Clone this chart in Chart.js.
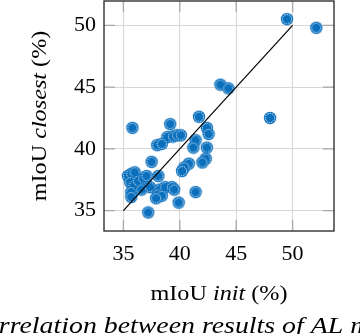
<!DOCTYPE html>
<html>
<head>
<meta charset="utf-8">
<script src="https://cdn.jsdelivr.net/npm/chart.js@4.4.1/dist/chart.umd.min.js"></script>
<style>
  html, body { margin: 0; padding: 0; background: #fff; }
  #wrap { width: 360px; height: 334px; position: relative; overflow: hidden; }
</style>
</head>
<body>
<div id="wrap"><canvas id="c" width="360" height="334"></canvas></div>
<script>
// mIoU init (x) vs mIoU closest (y)
const initVals = [
  49.5, 52.1, 43.6, 44.3, 48.0, 41.7, 35.8, 39.15, 42.4, 42.55,
  38.9, 39.4, 39.75, 40.1, 38.0, 38.4, 41.4, 41.2, 42.4, 42.3,
  42.0, 37.5, 40.8, 40.4, 40.2, 38.1, 35.4, 35.7, 36.0, 35.6,
  35.9, 35.7, 35.7, 36.3, 36.75, 37.05, 36.6, 37.35, 38.2, 38.7,
  39.3, 39.5, 38.1, 38.4, 37.9, 41.4, 39.9, 37.2
];
const closestVals = [
  50.5, 49.8, 45.2, 44.9, 42.5, 42.6, 41.7, 42.0, 41.7, 41.2,
  40.95, 41.0, 41.1, 41.1, 40.3, 40.4, 40.7, 40.1, 40.1, 39.2,
  38.9, 38.95, 38.8, 38.5, 38.2, 37.8, 37.8, 37.97, 38.1, 37.3,
  37.0, 36.5, 36.1, 37.4, 37.6, 37.8, 36.7, 36.9, 36.7, 36.9,
  36.9, 36.7, 36.3, 36.2, 36.0, 36.5, 35.65, 34.85
];
const refLine = [35, 50];
const tickVals = [35, 40, 45, 50];

const BLUE = "#0a6fbd";
const SERIF = '"Liberation Serif", "DejaVu Serif", serif';

// marker: blue disc with a thin white ring inside
function makeMarker() {
  const m = document.createElement("canvas");
  m.width = 14; m.height = 14;
  const g = m.getContext("2d");
  g.fillStyle = BLUE;
  g.beginPath(); g.arc(7, 7, 6.2, 0, Math.PI * 2); g.fill();
  g.strokeStyle = "rgba(255,255,255,0.95)";
  g.lineWidth = 0.9;
  g.setLineDash([1.4, 0.9]);
  g.beginPath(); g.arc(7, 7, 4.6, 0, Math.PI * 2); g.stroke();
  return m;
}

const points = initVals.map((x, i) => ({ x: x, y: closestVals[i] }));

// frame, inner ticks and the text that needs mixed italic
const extras = {
  id: "extras",
  afterDraw(chart) {
    const { ctx, chartArea: a, scales } = chart;
    ctx.save();
    ctx.strokeStyle = "#a8a8a8";
    ctx.lineWidth = 1.3;
    tickVals.forEach((v) => {
      const px = scales.x.getPixelForValue(v);
      const py = scales.y.getPixelForValue(v);
      ctx.beginPath();
      ctx.moveTo(px, a.top); ctx.lineTo(px, a.top + 11);
      ctx.moveTo(px, a.bottom); ctx.lineTo(px, a.bottom - 11);
      ctx.moveTo(a.left, py); ctx.lineTo(a.left + 11, py);
      ctx.moveTo(a.right, py); ctx.lineTo(a.right - 11, py);
      ctx.stroke();
    });
    ctx.strokeStyle = "#222";
    ctx.lineWidth = 1.3;
    ctx.strokeRect(a.left, a.top, a.right - a.left, a.bottom - a.top);

    ctx.fillStyle = "#000";
    ctx.textBaseline = "alphabetic";
    const parts = (pieces, size) =>
      pieces.map(([t, it]) => ({ t, f: (it ? "italic " : "") + size + "px " + SERIF }));
    function drawParts(list, cx, y, sx) {
      let w = 0;
      list.forEach((p) => { ctx.font = p.f; w += ctx.measureText(p.t).width; });
      ctx.save();
      ctx.translate(cx, y);
      ctx.scale(sx, 1);
      let x = -w / 2;
      ctx.textAlign = "left";
      list.forEach((p) => { ctx.font = p.f; ctx.fillText(p.t, x, 0); x += ctx.measureText(p.t).width; });
      ctx.restore();
    }
    // x title
    drawParts(parts([["mIoU ", false], ["init", true], [" (%)", false]], 22), 219, 300, 1.1);
    // y title
    ctx.save();
    ctx.translate(46, 116);
    ctx.rotate(-Math.PI / 2);
    drawParts(parts([["mIoU ", false], ["closest", true], [" (%)", false]], 22), 0, 0, 1.1);
    ctx.restore();
    // caption, cut off by the page edge
    ctx.save();
    ctx.font = "italic 24px " + SERIF;
    const lead = ctx.measureText("Co").width;
    ctx.translate(0, 333);
    ctx.scale(1.16, 1);
    ctx.fillText("Correlation between results of AL methods", -lead - 1, 0);
    ctx.restore();
    ctx.restore();
  }
};

new Chart(document.getElementById("c"), {
  type: "scatter",
  data: {
    datasets: [
      {
        type: "line",
        data: refLine.map((v) => ({ x: v, y: v })),
        borderColor: "#000",
        borderWidth: 1.2,
        pointRadius: 0,
        order: 0
      },
      {
        data: points,
        pointStyle: makeMarker(),
        pointRadius: 7,
        order: 1
      }
    ]
  },
  options: {
    responsive: false,
    animation: false,
    devicePixelRatio: 1,
    layout: { autoPadding: false, padding: { top: 1, right: 26, left: 0, bottom: 0 } },
    plugins: { legend: { display: false }, tooltip: { enabled: false } },
    scales: {
      x: {
        type: "linear",
        min: 33.28,
        max: 53.67,
        afterBuildTicks: (s) => { s.ticks = tickVals.map((v) => ({ value: v })); },
        afterFit: (s) => { s.height = 103; s.paddingLeft = 0; s.paddingRight = 0; },
        grid: { color: "#d6d6d6", lineWidth: 1, drawTicks: false },
        border: { display: false },
        ticks: { color: "#000", padding: 10, font: { family: SERIF, size: 22 } }
      },
      y: {
        type: "linear",
        min: 33.35,
        max: 51.97,
        afterBuildTicks: (s) => { s.ticks = tickVals.map((v) => ({ value: v })); },
        afterFit: (s) => { s.width = 104; s.paddingTop = 0; s.paddingBottom = 0; },
        grid: { color: "#d6d6d6", lineWidth: 1, drawTicks: false },
        border: { display: false },
        ticks: { color: "#000", padding: 8, font: { family: SERIF, size: 22 } }
      }
    }
  },
  plugins: [extras]
});
</script>
</body>
</html>
